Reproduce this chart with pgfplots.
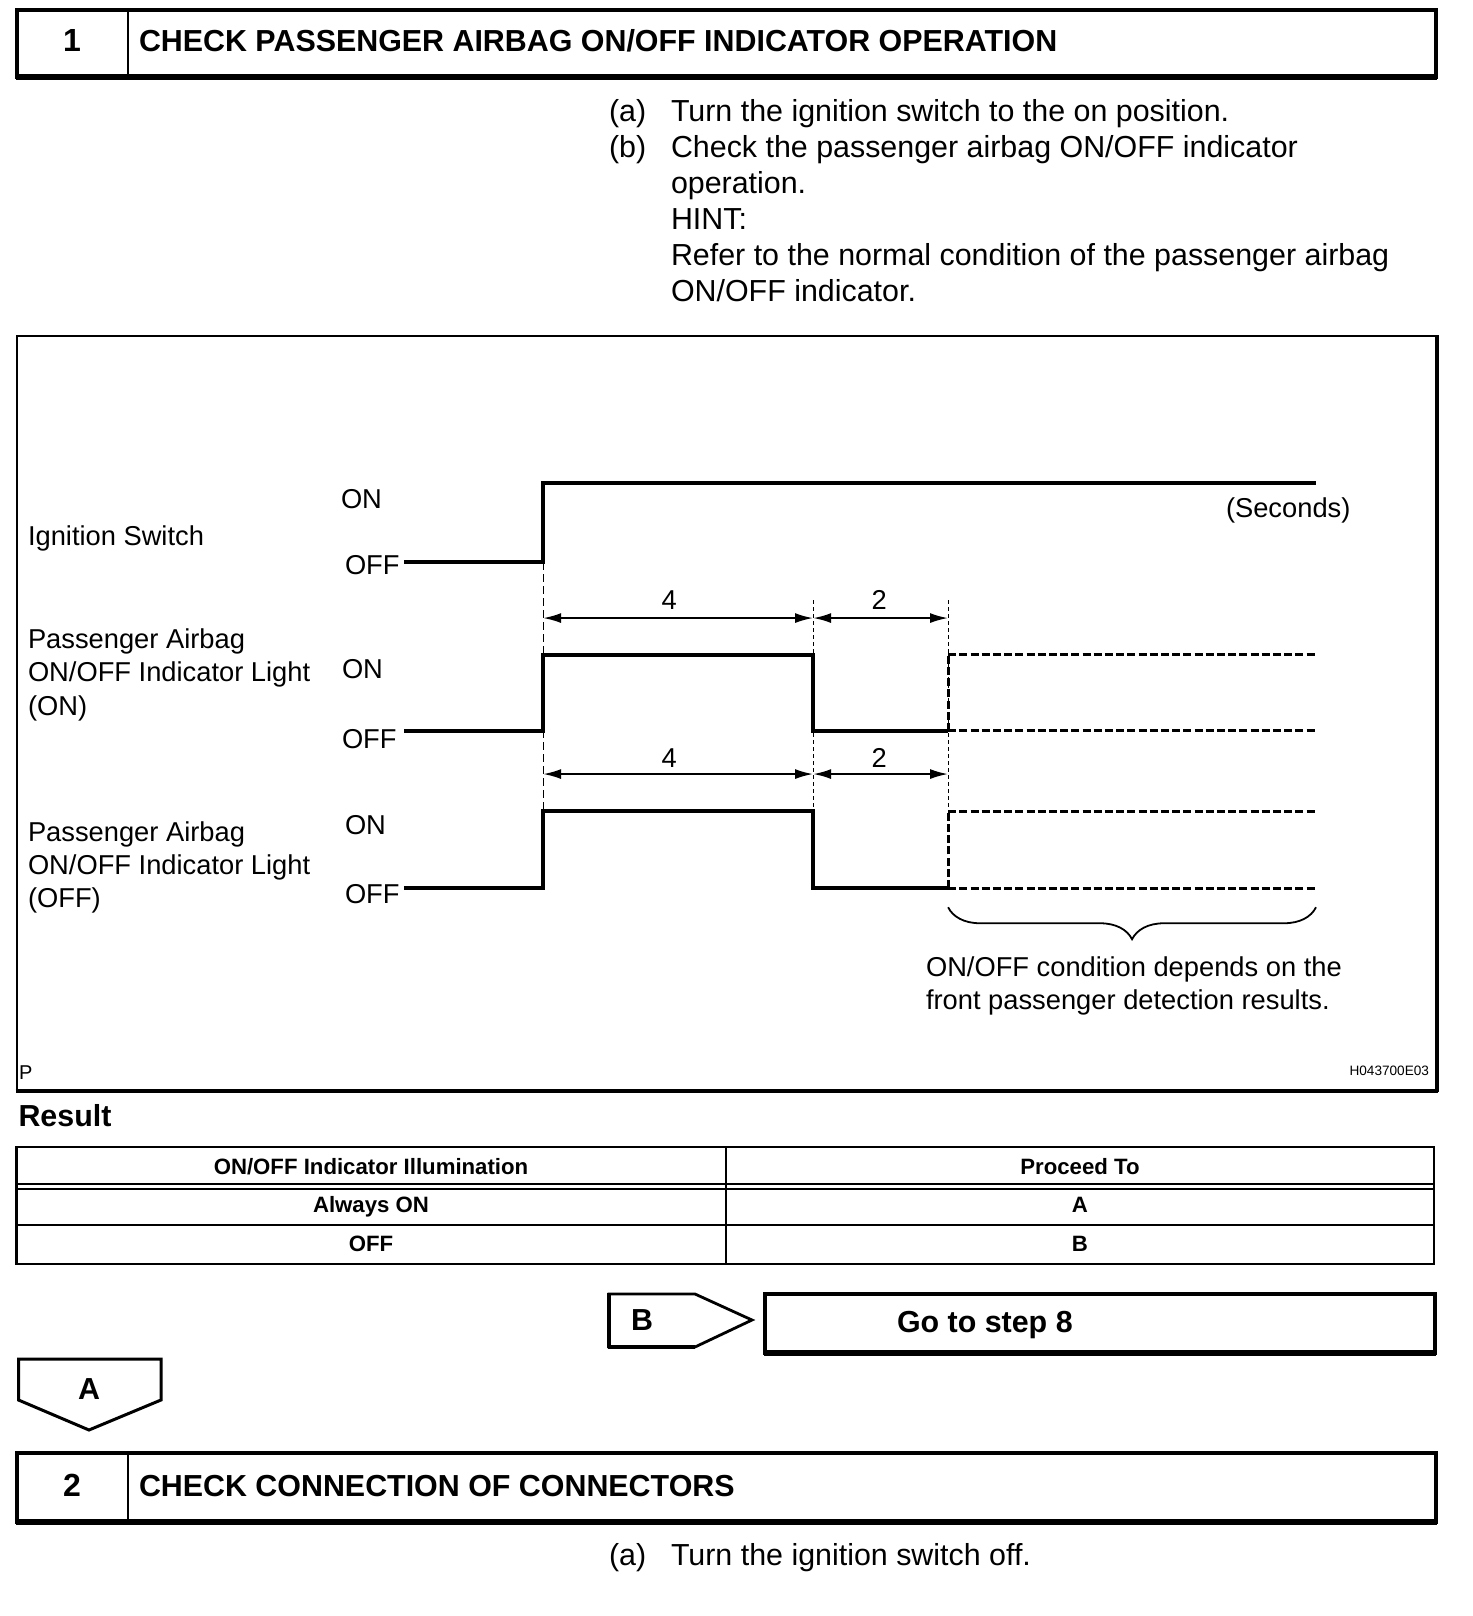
\documentclass[border=0pt]{standalone}
\usepackage{pgfplots}
\pgfplotsset{compat=1.18}
\usepackage{fontspec}
\setmainfont{Liberation Sans}
\usetikzlibrary{decorations.pathreplacing,arrows.meta}
\newcommand{\bodyf}{\fontsize{15.2pt}{18pt}\selectfont}
\newcommand{\diagf}{\fontsize{13.65pt}{16pt}\selectfont}
\newcommand{\tabf}{\fontsize{11.1pt}{13pt}\selectfont\bfseries}
\newcommand{\smallf}{\fontsize{6.8pt}{8pt}\selectfont}
\tikzset{dim/.style={line width=1pt, {Latex[length=9pt,width=5pt]}-{Latex[length=9pt,width=5pt]}}}
\begin{document}
\begin{tikzpicture}
\begin{scope}[x=0.5pt,y=-0.5pt, every node/.style={inner sep=0pt, outer sep=0pt}]
\path (0,0) rectangle (1472,1616);
% ---------- header 1
\draw[line width=2pt] (16.5,10.3) rectangle (1436,77.3);
\draw[line width=3pt] (15.5,77.3) -- (1437,77.3);
\draw[line width=1pt] (128,10.3) -- (128,77.3);
\node[anchor=base] at (72,52) {\fontsize{16pt}{18pt}\selectfont\bfseries 1};
\node[anchor=base west] at (139,52) {\bodyf\bfseries CHECK PASSENGER AIRBAG ON/OFF INDICATOR OPERATION};
% ---------- steps
\node[anchor=base west] at (609,121) {\bodyf (a)};
\node[anchor=base west] at (671,121) {\bodyf Turn the ignition switch to the on position.};
\node[anchor=base west] at (609,157) {\bodyf (b)};
\node[anchor=base west] at (671,157) {\bodyf Check the passenger airbag ON/OFF indicator};
\node[anchor=base west] at (671,193) {\bodyf operation.};
\node[anchor=base west] at (671,229) {\bodyf HINT:};
\node[anchor=base west] at (671,265) {\bodyf Refer to the normal condition of the passenger airbag};
\node[anchor=base west] at (671,301) {\bodyf ON/OFF indicator.};
% ---------- diagram frame
\draw[line width=1pt] (16.5,336) rectangle (1437,1091);
\draw[line width=2pt] (1437,335) -- (1437,1092) (15.5,1091) -- (1438,1091);
% labels
\node[anchor=base west] at (28,545) {\diagf Ignition Switch};
\node[anchor=base west] at (28,648) {\diagf Passenger Airbag};
\node[anchor=base west] at (28,681) {\diagf ON/OFF Indicator Light};
\node[anchor=base west] at (28,715) {\diagf (ON)};
\node[anchor=base west] at (28,841) {\diagf Passenger Airbag};
\node[anchor=base west] at (28,874) {\diagf ON/OFF Indicator Light};
\node[anchor=base west] at (28,907) {\diagf (OFF)};
\node[anchor=base west] at (341,508) {\diagf ON};
\node[anchor=base west] at (345,574) {\diagf OFF};
\node[anchor=base west] at (342,678) {\diagf ON};
\node[anchor=base west] at (342,748) {\diagf OFF};
\node[anchor=base west] at (345,834) {\diagf ON};
\node[anchor=base west] at (345,903) {\diagf OFF};
\node[anchor=base west] at (1226,517) {\diagf (Seconds)};
\node[anchor=base west] at (926,976) {\diagf ON/OFF condition depends on the};
\node[anchor=base west] at (926,1009) {\diagf front passenger detection results.};
\node[anchor=base west] at (19,1079) {\fontsize{10pt}{12pt}\selectfont P};
\node[anchor=base east] at (1429,1075) {\smallf H043700E03};
% ---------- result table
\node[anchor=base west] at (18.5,1126) {\bodyf\bfseries Result};
\draw[line width=1.3pt] (16.5,1147) rectangle (1434,1264);
\draw[line width=0.9pt] (16.5,1184) -- (1434,1184);
\draw[line width=0.9pt] (16.5,1189) -- (1434,1189);
\draw[line width=0.9pt] (16.5,1225) -- (1434,1225);
\draw[line width=0.6pt] (726,1147) -- (726,1264);
\node[anchor=base] at (371,1174) {\tabf ON/OFF Indicator Illumination};
\node[anchor=base] at (1080,1174) {\tabf Proceed To};
\node[anchor=base] at (371,1212) {\tabf Always ON};
\node[anchor=base] at (1080,1212) {\tabf A};
\node[anchor=base] at (371,1251) {\tabf OFF};
\node[anchor=base] at (1080,1251) {\tabf B};
% ---------- B arrow and go to box
\draw[line width=1.4pt, line join=miter] (609,1294) -- (695,1294) -- (752,1320) -- (695,1347) -- (609,1347) -- cycle;
\draw[line width=2.2pt] (609,1293) -- (609,1348) (608,1347) -- (695,1347);
\node[anchor=base] at (642,1330) {\bodyf\bfseries B};
\draw[line width=1.6pt] (765,1294) rectangle (1435,1353);
\draw[line width=2.6pt] (764,1353) -- (1436,1353);
\node[anchor=base west] at (897,1332) {\bodyf\bfseries Go to step 8};
% ---------- A arrow
\draw[line width=1.5pt, line join=miter] (18.5,1359) -- (161,1359) -- (161,1400) -- (89,1430) -- (18.5,1400) -- cycle;
\node[anchor=base] at (89,1399) {\bodyf\bfseries A};
% ---------- header 2
\draw[line width=2pt] (16.5,1453) rectangle (1436,1522);
\draw[line width=3pt] (15.5,1522) -- (1437,1522);
\draw[line width=1pt] (128,1453) -- (128,1522);
\node[anchor=base] at (72,1496) {\fontsize{16pt}{18pt}\selectfont\bfseries 2};
\node[anchor=base west] at (139,1496) {\bodyf\bfseries CHECK CONNECTION OF CONNECTORS};
\node[anchor=base west] at (609,1565) {\bodyf (a)};
\node[anchor=base west] at (671,1565) {\bodyf Turn the ignition switch off.};
\end{scope}
% ---------- timing diagram
\begin{axis}[at={(202pt,-444pt)}, anchor=south west, scale only axis,
  width=456pt, height=202.5pt, xmin=-2.06, xmax=11.45, ymin=0, ymax=5.26,
  hide axis, clip=false,
  sig/.style={black, line width=1.9pt, line join=miter, mark=none},
  sigd/.style={black, line width=1.5pt, dash pattern=on 4pt off 1.6pt, mark=none}]
% reference lines
\draw[line width=0.5pt, dash pattern=on 4pt off 2pt] (0,4.23) -- (0,1.0);
\draw[line width=0.5pt, dash pattern=on 2pt off 1.5pt] (4,3.74) -- (4,1.0);
\draw[line width=0.5pt, dash pattern=on 2pt off 1.5pt] (6,3.74) -- (6,1.0);
% ignition switch
\addplot[sig] coordinates {(-2.06,4.23) (0,4.23) (0,5.26) (11.45,5.26)};
% indicator (ON)
\addplot[sig] coordinates {(-2.06,2.04) (0,2.04) (0,3.03) (4,3.03) (4,2.04) (6,2.04)};
\addplot[sigd] coordinates {(6,3.03) (11.45,3.03)};
\addplot[sigd] coordinates {(6,2.04) (11.45,2.04)};
\addplot[sigd] coordinates {(6,2.04) (6,3.03)};
% indicator (OFF)
\addplot[sig] coordinates {(-2.06,0) (0,0) (0,1) (4,1) (4,0) (6,0)};
\addplot[sigd] coordinates {(6,1) (11.45,1)};
\addplot[sigd] coordinates {(6,0) (11.45,0)};
\addplot[sigd] coordinates {(6,0) (6,1)};
% dimension arrows
\draw[dim] (0,3.506) -- (4,3.506);
\draw[dim] (4,3.506) -- (6,3.506);
\draw[dim] (0,1.48) -- (4,1.48);
\draw[dim] (4,1.48) -- (6,1.48);
\node[anchor=base] at (1.87,3.62) {\diagf 4};
\node[anchor=base] at (4.98,3.62) {\diagf 2};
\node[anchor=base] at (1.87,1.57) {\diagf 4};
\node[anchor=base] at (4.98,1.57) {\diagf 2};
% brace
\draw[line width=0.9pt, decorate, decoration={brace, mirror, amplitude=16pt}] (6,-0.25) -- (11.45,-0.25);
\end{axis}
\end{tikzpicture}
\end{document}
